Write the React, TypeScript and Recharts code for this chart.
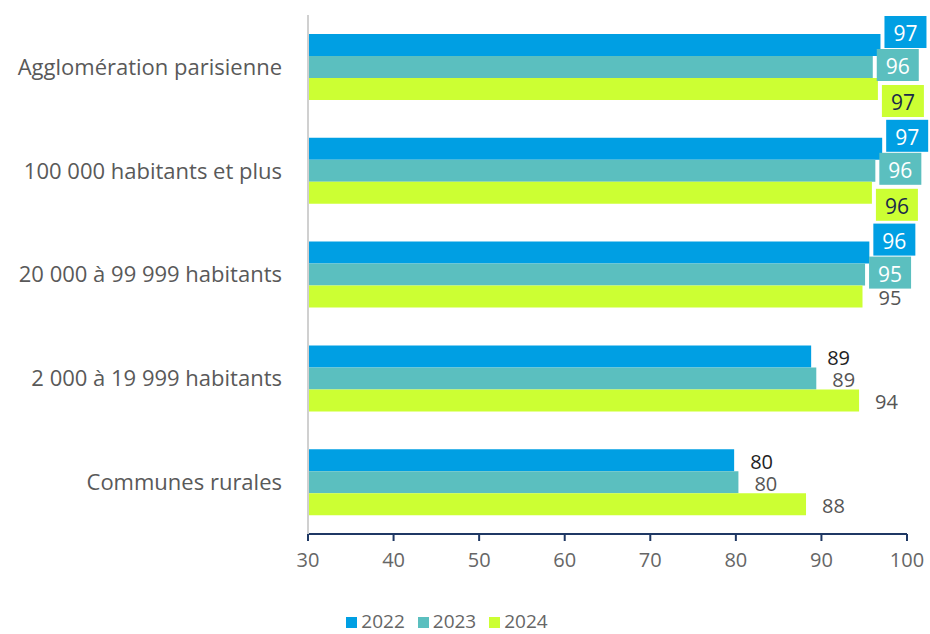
import { BarChart, Bar, XAxis, YAxis, Legend, LabelList } from "recharts";

const categories = [
  "Agglomération parisienne",
  "100 000 habitants et plus",
  "20 000 à 99 999 habitants",
  "2 000 à 19 999 habitants",
  "Communes rurales",
];
const values2022 = [96.9, 97.1, 95.6, 88.8, 79.8];
const values2023 = [96.0, 96.3, 95.1, 89.4, 80.3];
const values2024 = [96.6, 95.9, 94.8, 94.4, 88.2];
const xTicks = [30, 40, 50, 60, 70, 80, 90, 100];

const FONT = "'Open Sans', sans-serif";

const rows = categories.map((name, i) => ({
  name,
  y2022: values2022[i],
  y2023: values2023[i],
  y2024: values2024[i],
}));

// etiquette : encadree quand la valeur est haute, texte simple sinon
function makeLabel(fill: string, boxText: string, plainText: string, dy: number) {
  return (props: any) => {
    const { x, y, width, height, value } = props;
    const v = Number(value);
    const end = x + width;
    const cy = y + height / 2;
    const txt = Math.round(v).toString();
    if (v >= 95) {
      const bw = 42;
      const bh = 32;
      const by = cy + dy - bh / 2;
      return (
        <g>
          <rect x={end + 4} y={by} width={bw} height={bh} fill={fill} />
          <text
            x={end + 4 + bw / 2}
            y={by + bh / 2 + 1}
            textAnchor="middle"
            dominantBaseline="central"
            fill={boxText}
            fontFamily={FONT}
            fontSize={21}
            fontWeight={500}
          >
            {txt}
          </text>
        </g>
      );
    }
    return (
      <text
        x={end + 16}
        y={cy + 1}
        textAnchor="start"
        dominantBaseline="central"
        fill={plainText}
        fontFamily={FONT}
        fontSize={20}
      >
        {txt}
      </text>
    );
  };
}

export default function App() {
  return (
    <div style={{ position: "absolute", left: 0, top: 0, background: "#fff" }}>
      <BarChart
        width={930}
        height={634}
        data={rows}
        layout="vertical"
        margin={{ top: 15, right: 23, bottom: 10, left: 0 }}
        barGap={0}
        barSize={22}
      >
        <XAxis
          type="number"
          domain={[30, 100]}
          ticks={xTicks}
          allowDataOverflow
          height={50}
          axisLine={{ stroke: "#1f3864", strokeWidth: 2 }}
          tickLine={{ stroke: "#1f3864", strokeWidth: 2 }}
          tickSize={7}
          tickMargin={12}
          tick={{ fill: "#666", fontSize: 20, fontFamily: FONT }}
        />
        <YAxis
          type="category"
          dataKey="name"
          width={308}
          axisLine={{ stroke: "#d0d0d0", strokeWidth: 2 }}
          tickLine={false}
          tickSize={0}
          tickMargin={26}
          tick={{ fill: "#595959", fontSize: 22, fontFamily: FONT }}
        />
        <Legend
          verticalAlign="bottom"
          height={40}
          iconType="square"
          iconSize={11}
          wrapperStyle={{ top: 608, left: 0, fontFamily: FONT, fontSize: 19 }}
          formatter={(v: string) => <span style={{ color: "#666", marginRight: 3 }}>{v}</span>}
        />
        <Bar dataKey="y2022" name="2022" fill="#009fe3" isAnimationActive={false}>
          <LabelList dataKey="y2022" content={makeLabel("#009fe3", "#fff", "#222", -13)} />
        </Bar>
        <Bar dataKey="y2023" name="2023" fill="#5bbfbf" isAnimationActive={false}>
          <LabelList dataKey="y2023" content={makeLabel("#5bbfbf", "#fff", "#555", -2)} />
        </Bar>
        <Bar dataKey="y2024" name="2024" fill="#ccff33" isAnimationActive={false}>
          <LabelList dataKey="y2024" content={makeLabel("#ccff33", "#1a2a4a", "#555", 12)} />
        </Bar>
      </BarChart>
    </div>
  );
}
